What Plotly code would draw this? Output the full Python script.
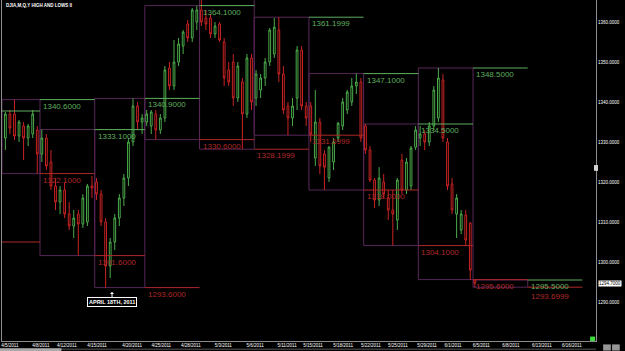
import plotly.graph_objects as go

# ---------------- data ----------------
# bar index 0..103 (intraday bars, Apr 5 - Jun 3 2011)
opens = [1331, 1337, 1337, 1331.5, 1334, 1331, 1332, 1333,
         1327, 1331, 1325, 1319, 1315, 1318, 1312, 1309, 1312, 1309.5, 1310, 1319,
         1320, 1317, 1310, 1299, 1305, 1311, 1316, 1321, 1330, 1339, 1335,
         1335, 1334, 1337, 1333, 1336, 1348.5, 1344, 1350, 1354, 1359.5, 1356, 1360,
         1363, 1361, 1361, 1357, 1359.5, 1355, 1348, 1350, 1341, 1345, 1337, 1351,
         1341, 1343, 1346, 1350, 1352, 1358, 1347, 1339, 1336, 1341, 1353, 1339,
         1339, 1326, 1335, 1327, 1321, 1325, 1331, 1334, 1338, 1340, 1344, 1345,
         1334, 1328, 1320.5, 1315.5, 1320, 1316, 1313, 1310.5, 1325.5, 1318, 1319, 1328.7,
         1331, 1332, 1330, 1334, 1336, 1345.5, 1330, 1319.5, 1312, 1308, 1311.75, 1309.75,
         1295.5]
highs = [1337.5, 1338, 1340.6, 1335.5, 1335, 1334.5, 1338, 1334,
         1333.1, 1332, 1328, 1321, 1319, 1320, 1315, 1313, 1313, 1317, 1319.5, 1321.5,
         1321, 1318, 1311, 1306, 1312, 1317, 1322, 1331, 1340.9, 1340, 1337,
         1338, 1338, 1338, 1337, 1349, 1350, 1355.5, 1356, 1358, 1360.5, 1363.5, 1364.1,
         1367, 1363, 1362, 1360, 1360, 1356, 1350, 1352, 1350, 1346, 1352, 1352,
         1348, 1347, 1351, 1358.5, 1361, 1361.2, 1349, 1340, 1341, 1354, 1354, 1340,
         1340, 1343, 1336, 1328, 1329, 1331, 1335, 1341, 1343, 1346, 1347.1, 1346,
         1334.5, 1329, 1321, 1323.7, 1322, 1318, 1318, 1321, 1327, 1326, 1329, 1334,
         1334, 1333, 1335, 1344, 1348.5, 1347, 1331, 1321, 1317, 1313, 1313, 1310,
         1295.5]
lows = [1328, 1332, 1330.5, 1330, 1325.5, 1329, 1331, 1322.1,
        1325, 1323, 1318, 1313, 1312, 1311, 1308, 1306, 1301.6, 1308.5, 1309, 1316,
        1315.5, 1309, 1293.6, 1296, 1303, 1309, 1314, 1319, 1329, 1333, 1332,
        1334, 1332, 1330.6, 1332, 1335, 1343, 1343, 1349, 1352, 1355, 1355, 1358,
        1359, 1358, 1356, 1356, 1355, 1344, 1344, 1339, 1340, 1328.2, 1336, 1338,
        1339, 1341, 1344, 1349, 1351, 1345, 1337, 1331.7, 1334, 1338, 1338, 1334,
        1330, 1324, 1322, 1318, 1320, 1323, 1330, 1333, 1337, 1339, 1342, 1330,
        1327, 1320, 1313.5, 1314, 1316, 1310.5, 1304.1, 1308, 1317, 1317, 1318, 1328,
        1329, 1328, 1329, 1333, 1335, 1330, 1318, 1312, 1306, 1307, 1304, 1295.6,
        1293.7]
closes = [1337, 1333.5, 1331.5, 1335, 1331, 1334, 1337, 1327,
          1331, 1324, 1319, 1315, 1318, 1312, 1309, 1311, 1309.5, 1316, 1319, 1318.5,
          1317, 1310, 1299, 1305, 1311, 1316, 1321, 1330, 1339, 1335, 1336,
          1337, 1337.5, 1333, 1336, 1348, 1344, 1350, 1354.5, 1357.5, 1356, 1363, 1363,
          1360, 1359.5, 1357, 1359, 1355.5, 1346, 1345, 1341, 1349, 1337, 1351, 1340,
          1347, 1346, 1350, 1358, 1358.7, 1347, 1338, 1336, 1339, 1353, 1339, 1336,
          1332, 1335, 1324, 1323.7, 1328.7, 1330, 1334.7, 1340, 1342.5, 1344, 1345, 1331,
          1328, 1320.5, 1315.5, 1321, 1317, 1313, 1312, 1320.5, 1318, 1325, 1328.5, 1333,
          1332, 1330, 1334, 1343, 1346, 1331, 1319, 1313, 1316, 1312, 1305.5, 1298,
          1294.7]

# weekly boxes: edges in bar units, highs/lows (index 0 = prior week)
week_edges = [-0.74, 7.6, 19.6, 30.6, 42.6, 54.6, 66.6, 78.6, 90.6, 102.6, 114.6, 126.6]
week_high = [1337.75, 1340.6, 1333.1, 1340.9, 1364.1, 1367.0, 1361.2, 1347.1, 1334.5, 1348.5, 1295.5]
week_low = [1305.0, 1322.1, 1301.6, 1293.6, 1330.6, 1328.2, 1331.7, 1318.0, 1304.1, 1295.6, 1293.7]
high_labels = [None, "1340.6000", "1333.1000", "1340.9000", "1364.1000", None,
               "1361.1999", "1347.1000", "1334.5000", "1348.5000", "1295.5000"]
low_labels = [None, "1322.1000", "1301.6000", "1293.6000", "1330.6000", "1328.1999",
              "1331.6999", "1318.0000", "1304.1000", "1295.6000", "1293.6999"]

tick_pos = [1.0, 7.8, 13.5, 20.1, 27.8, 34.2, 40.7, 47.8, 54.8, 61.8,
            67.5, 74.1, 80.2, 86.1, 92.5, 98.2, 104.4, 110.9, 117.7, 124.3]
tick_text = ["4/5/2011", "4/8/2011", "4/12/2011", "4/15/2011", "4/20/2011", "4/25/2011",
             "4/28/2011", "5/3/2011", "5/6/2011", "5/11/2011", "5/15/2011", "5/18/2011",
             "5/22/2011", "5/25/2011", "5/29/2011", "6/1/2011", "6/5/2011", "6/8/2011",
             "6/13/2011", "6/16/2011"]
y_ticks = [1280, 1290, 1300, 1310, 1320, 1330, 1340, 1350, 1360]
last_price = 1294.7
note_bar, note_price, note_text = 23.4, 1292.5, "APRIL 18TH, 2011"
title_text = "DJIA,M,Q,Y HIGH AND LOWS II"

# ---------------- styles ----------------
GREEN_C = "rgb(75,170,75)"
RED_C = "rgb(200,35,35)"
GREEN_L = "rgb(95,175,95)"
RED_L = "rgb(175,40,40)"
PURPLE = "rgb(88,38,88)"
AXIS = "rgb(140,140,140)"
LABEL_FONT = "Liberation Sans"
LABEL_SIZE = 8

bars = list(range(len(opens)))

fig = go.Figure()
fig.add_trace(go.Candlestick(
    x=bars, open=opens, high=highs, low=lows, close=closes,
    increasing=dict(line=dict(color=GREEN_C, width=1), fillcolor="black"),
    decreasing=dict(line=dict(color=RED_C, width=1), fillcolor="black"),
    whiskerwidth=0, showlegend=False, hoverinfo="skip",
))

shapes = []
annotations = []
# boxes for weeks 1..10
for i in range(1, len(week_high)):
    shapes.append(dict(type="rect", xref="x", yref="y",
                       x0=week_edges[i - 1], x1=week_edges[i],
                       y0=week_low[i], y1=week_high[i],
                       line=dict(color=PURPLE, width=1), layer="below"))
# each week's levels projected over the following week
n_weeks = len(week_high)
for j in range(n_weeks):
    x0, x1 = week_edges[j], week_edges[j + 1]
    shapes.append(dict(type="line", xref="x", yref="y", x0=x0, x1=x1,
                       y0=week_high[j], y1=week_high[j],
                       line=dict(color=GREEN_L, width=1)))
    shapes.append(dict(type="line", xref="x", yref="y", x0=x0, x1=x1,
                       y0=week_low[j], y1=week_low[j],
                       line=dict(color=RED_L, width=1)))
    if high_labels[j]:
        annotations.append(dict(x=x0, y=week_high[j], xref="x", yref="y",
                                text=high_labels[j], showarrow=False,
                                xanchor="left", yanchor="top", xshift=1,
                                font=dict(family=LABEL_FONT, size=LABEL_SIZE, color=GREEN_L)))
    if low_labels[j]:
        # the very last pair of labels sits on almost the same level: nudge the low one down
        ys = -3 if j == n_weeks - 1 else 0
        annotations.append(dict(x=x0, y=week_low[j], xref="x", yref="y",
                                text=low_labels[j], showarrow=False,
                                xanchor="left", yanchor="top", xshift=1, yshift=ys,
                                font=dict(family=LABEL_FONT, size=LABEL_SIZE, color=RED_L)))

# title
annotations.append(dict(x=0, y=1, xref="paper", yref="paper", text="<b>" + title_text + "</b>",
                        showarrow=False, xanchor="left", yanchor="top", xshift=2, yshift=-1,
                        font=dict(family="Liberation Sans", size=4.5, color="white")))
# last price box
annotations.append(dict(x=1, y=last_price, xref="paper", yref="y", text="%.4f" % last_price,
                        showarrow=False, xanchor="left", yanchor="middle", xshift=2,
                        bgcolor="white", borderpad=0,
                        font=dict(family="Liberation Sans", size=4.5, color="black")))
# date note with arrow
annotations.append(dict(x=note_bar, y=note_price, xref="x", yref="y",
                        text="<b>" + note_text + "</b>", showarrow=True,
                        ax=0, ay=10, arrowhead=1, arrowsize=0.7, arrowwidth=1,
                        arrowcolor="white", bgcolor="black", bordercolor="white",
                        borderwidth=1, borderpad=1,
                        font=dict(family="Liberation Sans", size=5.5, color="white")))

# decorations
shapes += [
    dict(type="rect", xref="paper", yref="paper", x0=0.990, x1=0.9985, y0=0.0, y1=0.013,
         fillcolor="rgb(60,220,60)", line=dict(width=0)),
    dict(type="rect", xref="paper", yref="paper", x0=0.9966, x1=1.0034, y0=0.499, y1=0.516,
         fillcolor="rgb(210,210,210)", line=dict(width=0)),
    dict(type="line", xref="paper", yref="paper", x0=-0.004, x1=1.0, y0=-0.024, y1=-0.024,
         line=dict(color="rgb(90,90,90)", width=1)),
    dict(type="rect", xref="paper", yref="paper", x0=-0.004, x1=0.1, y0=-0.03, y1=-0.021,
         fillcolor="rgb(170,170,170)", line=dict(width=0)),
    dict(type="rect", xref="paper", yref="paper", x0=1.012, x1=1.025, y0=-0.028, y1=-0.01,
         fillcolor="rgb(150,150,150)", line=dict(width=0)),
    dict(type="rect", xref="paper", yref="paper", x0=1.027, x1=1.040, y0=-0.028, y1=-0.01,
         fillcolor="rgb(150,150,150)", line=dict(width=0)),
]

fig.update_layout(
    width=625, height=351,
    margin=dict(l=2, r=29, t=0, b=10),
    paper_bgcolor="black", plot_bgcolor="black",
    boxgap=0.45,
    shapes=shapes, annotations=annotations,
    xaxis=dict(range=[-0.737, 129.58], rangeslider=dict(visible=False),
               showgrid=False, zeroline=False, showline=True, linecolor=AXIS,
               tickmode="array", tickvals=tick_pos, ticktext=tick_text, ticks="",
               tickfont=dict(family="Liberation Sans", size=4.5, color="white")),
    yaxis=dict(range=[1280.25, 1365.5], side="right", showgrid=False, zeroline=False,
               showline=True, mirror=True, linecolor=AXIS,
               tickmode="array", tickvals=y_ticks,
               ticktext=["%.4f" % v for v in y_ticks], ticks="",
               tickfont=dict(family="Liberation Sans", size=4.5, color="white")),
)

fig.write_html("out.html")
